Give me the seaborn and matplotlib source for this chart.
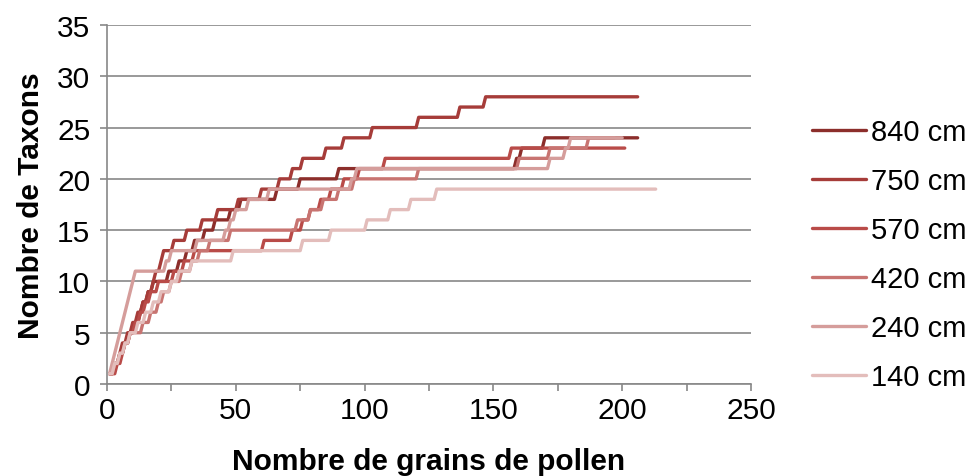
import pandas as pd
import matplotlib
matplotlib.use("Agg")
import matplotlib.pyplot as plt
from matplotlib.ticker import MultipleLocator
import seaborn as sns

sns.set_theme(style="white")
plt.rcParams['font.family'] = ['Liberation Sans', 'DejaVu Sans']
plt.rcParams['text.color'] = 'black'
plt.rcParams['axes.labelcolor'] = 'black'
plt.rcParams['xtick.labelcolor'] = 'black'
plt.rcParams['ytick.labelcolor'] = 'black'

# grains counted when a new taxon appears, and the taxa count reached there
depths = ['840 cm', '750 cm', '570 cm', '420 cm', '240 cm', '140 cm']
colors = ['#8c2e2b', '#a63c39', '#b94b48', '#c87471', '#d59d9b', '#e3bdbb']

x_840 = [1, 3, 5, 7, 9, 11, 13, 14, 16, 18, 24, 28, 31, 34, 38, 42, 48, 52, 66, 75, 90, 159, 161, 170]
y_840 = [1, 2, 3, 4, 5, 6, 7, 8, 9, 10, 11, 12, 13, 14, 15, 16, 17, 18, 19, 20, 21, 22, 23, 24]
end_840 = 206

x_750 = [1, 3, 5, 6, 8, 10, 12, 14, 16, 18, 19, 21, 22, 26, 31, 37, 43, 51, 60, 67, 72, 76, 85, 92, 103, 121, 137, 147]
y_750 = [1, 2, 3, 4, 5, 6, 7, 8, 9, 10, 11, 12, 13, 14, 15, 16, 17, 18, 19, 20, 21, 22, 23, 24, 25, 26, 27, 28]
end_750 = 206

x_570 = [1, 4, 6, 7, 9, 11, 13, 15, 17, 20, 26, 30, 34, 61, 72, 76, 79, 83, 87, 92, 98, 108, 157]
y_570 = [1, 2, 3, 4, 5, 6, 7, 8, 9, 10, 11, 12, 13, 14, 15, 16, 17, 18, 19, 20, 21, 22, 23]
end_570 = 201

x_420 = [1, 3, 5, 7, 9, 14, 17, 20, 22, 25, 29, 33, 36, 40, 48, 74, 79, 84, 90, 96, 121, 160, 172, 187]
y_420 = [1, 2, 3, 4, 5, 6, 7, 8, 9, 10, 11, 12, 13, 14, 15, 16, 17, 18, 19, 20, 21, 22, 23, 24]
end_420 = 197

x_240 = [1, 2, 3, 4, 5, 6, 7, 8, 9, 10, 11, 23, 25, 35, 46, 48, 50, 55, 63, 95, 97, 172, 178, 180]
y_240 = [1, 2, 3, 4, 5, 6, 7, 8, 9, 10, 11, 12, 13, 14, 15, 16, 17, 18, 19, 20, 21, 22, 23, 24]
end_240 = 200

x_140 = [1, 3, 5, 7, 9, 12, 15, 18, 21, 25, 28, 33, 49, 76, 87, 101, 110, 118, 128]
y_140 = [1, 2, 3, 4, 5, 6, 7, 8, 9, 10, 11, 12, 13, 14, 15, 16, 17, 18, 19]
end_140 = 213

series = [(x_840, y_840, end_840), (x_750, y_750, end_750), (x_570, y_570, end_570),
          (x_420, y_420, end_420), (x_240, y_240, end_240), (x_140, y_140, end_140)]

# one point per grain count: the curve only changes between grain n-1 and n
rows = []
for depth, (xs, ys, end) in zip(depths, series):
    pts = [(xs[0], ys[0])]
    for i in range(1, len(xs)):
        if xs[i] - 1 > pts[-1][0]:
            pts.append((xs[i] - 1, ys[i - 1]))
        pts.append((xs[i], ys[i]))
    pts.append((end, ys[-1]))
    for k, (gx, gy) in enumerate(pts):
        rows.append({'depth': depth, 'order': k, 'grains': gx, 'taxa': gy})
df = pd.DataFrame(rows)

fig = plt.figure(figsize=(9.7, 4.77), dpi=100)
ax = fig.add_axes([0.1103, 0.1929, 0.6639, 0.7526])

sns.lineplot(data=df, x='grains', y='taxa', hue='depth', hue_order=depths,
             palette=colors, sort=False, estimator=None, linewidth=2.4, ax=ax)

ax.set_xlim(0, 250)
ax.set_ylim(0, 35)
ax.xaxis.set_major_locator(MultipleLocator(50))
ax.xaxis.set_minor_locator(MultipleLocator(25))
ax.yaxis.set_major_locator(MultipleLocator(5))
ax.grid(axis='y', color='#888888', linewidth=1.2)
ax.set_axisbelow(True)
for side in ['top', 'right']:
    ax.spines[side].set_visible(False)
for side in ['left', 'bottom']:
    ax.spines[side].set_color('#888888')
    ax.spines[side].set_linewidth(1.2)
ax.tick_params(axis='both', which='both', direction='out', length=5, width=1.2,
               color='#888888', labelsize=21.5, pad=4)
ax.tick_params(axis='y', pad=7)
ax.tick_params(axis='both', bottom=True, left=True, which='both')

ax.set_xlabel('Nombre de grains de pollen', fontsize=21.5, fontweight='bold', labelpad=16)
ax.set_ylabel('Nombre de Taxons', fontsize=21.5, fontweight='bold', labelpad=9)

sns.move_legend(ax, 'center left', bbox_to_anchor=(1.094, 0.36), frameon=False,
                title=None, fontsize=21, handlelength=1.88, handletextpad=0.17,
                labelspacing=0.72, borderpad=0, borderaxespad=0)

fig.savefig('out.png', dpi=100)
